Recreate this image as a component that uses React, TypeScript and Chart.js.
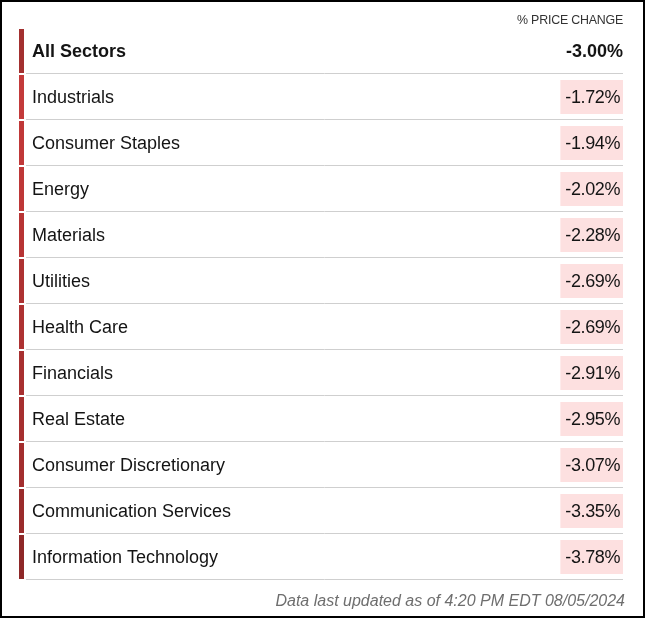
import React, { useEffect, useRef } from "react";
import { Chart, registerables } from "chart.js";

Chart.register(...registerables);

const sectors = [
  "All Sectors",
  "Industrials",
  "Consumer Staples",
  "Energy",
  "Materials",
  "Utilities",
  "Health Care",
  "Financials",
  "Real Estate",
  "Consumer Discretionary",
  "Communication Services",
  "Information Technology",
];

const priceChange = [-3.0, -1.72, -1.94, -2.02, -2.28, -2.69, -2.69, -2.91, -2.95, -3.07, -3.35, -3.78];

const stripColors = [
  "#a3302f",
  "#c33a3a",
  "#c03838",
  "#be3737",
  "#b73434",
  "#ae3232",
  "#ae3232",
  "#a83030",
  "#a62f2f",
  "#a32e2e",
  "#9a2b2b",
  "#8e2828",
];

const headerText = "% PRICE CHANGE";
const footerText = "Data last updated as of 4:20 PM EDT 08/05/2024";

const FONT = "'Liberation Sans', Arial, Helvetica, sans-serif";

const tablePlugin = {
  id: "tablePlugin",
  afterDraw(chart: any) {
    const ctx = chart.ctx as CanvasRenderingContext2D;
    const y = chart.scales.y;
    const area = chart.chartArea;
    const half = (area.bottom - area.top) / sectors.length / 2;
    ctx.save();
    // header
    ctx.font = `12.4px ${FONT}`;
    ctx.fillStyle = "#333";
    ctx.textAlign = "right";
    ctx.textBaseline = "middle";
    (ctx as any).letterSpacing = "-0.2px";
    ctx.fillText(headerText, area.right, area.top - 6);
    (ctx as any).letterSpacing = "0px";

    sectors.forEach((name, i) => {
      const yc = y.getPixelForValue(i);
      const top = yc - half;
      const bottom = yc + half;
      // strip
      ctx.fillStyle = stripColors[i];
      ctx.fillRect(area.left, top + 2, 5, 2 * half - 2);
      // separator
      ctx.strokeStyle = "#cfcfcf";
      ctx.lineWidth = 1;
      ctx.beginPath();
      ctx.moveTo(area.left + 7, Math.round(bottom) + 0.5);
      ctx.lineTo(area.right, Math.round(bottom) + 0.5);
      ctx.stroke();
      // label
      const bold = i === 0;
      ctx.font = `${bold ? "bold " : ""}18px ${FONT}`;
      ctx.fillStyle = "#141414";
      ctx.textAlign = "left";
      ctx.textBaseline = "middle";
      ctx.fillText(name, area.left + 13, yc + 2);
      // value
      const txt = priceChange[i].toFixed(2) + "%";
      if (bold) {
        ctx.textAlign = "right";
        ctx.fillText(txt, area.right, yc + 2);
      } else {
        ctx.font = `18px ${FONT}`;
        (ctx as any).letterSpacing = "-0.4px";
        const w = ctx.measureText(txt).width;
        const tr = area.right - 3;
        ctx.fillStyle = "#fde0e0";
        ctx.fillRect(tr - w - 5, top + 7, area.right - (tr - w - 5), 34);
        ctx.fillStyle = "#141414";
        ctx.textAlign = "right";
        ctx.fillText(txt, tr, yc + 2);
        (ctx as any).letterSpacing = "0px";
      }
    });

    // footer
    ctx.font = `italic 16px ${FONT}`;
    ctx.fillStyle = "#6e6e6e";
    ctx.textAlign = "right";
    ctx.textBaseline = "middle";
    ctx.fillText(footerText, area.right + 2, area.bottom + 23);
    ctx.restore();
  },
};

export default function App() {
  const ref = useRef<HTMLCanvasElement | null>(null);
  useEffect(() => {
    if (!ref.current) return;
    const chart = new Chart(ref.current, {
      type: "bar",
      data: {
        labels: sectors,
        datasets: [
          {
            label: "% Price Change",
            data: priceChange,
            backgroundColor: "rgba(0,0,0,0)",
            borderWidth: 0,
          },
        ],
      },
      options: {
        indexAxis: "y",
        responsive: false,
        animation: false,
        devicePixelRatio: 1,
        events: [],
        layout: { padding: { left: 17, right: 20, top: 25, bottom: 37 } },
        scales: {
          x: { type: "linear", min: -4, max: 0, display: false },
          y: { type: "category", display: false, offset: true },
        },
        plugins: {
          legend: { display: false },
          tooltip: { enabled: false },
          title: { display: false },
        },
      },
      plugins: [tablePlugin],
    });
    return () => chart.destroy();
  }, []);
  return (
    <div
      style={{
        position: "absolute",
        left: 0,
        top: 0,
        width: 645,
        height: 618,
        boxSizing: "border-box",
        border: "2px solid #000",
        background: "#fff",
      }}
    >
      <canvas ref={ref} width={641} height={614} style={{ display: "block" }} />
    </div>
  );
}
